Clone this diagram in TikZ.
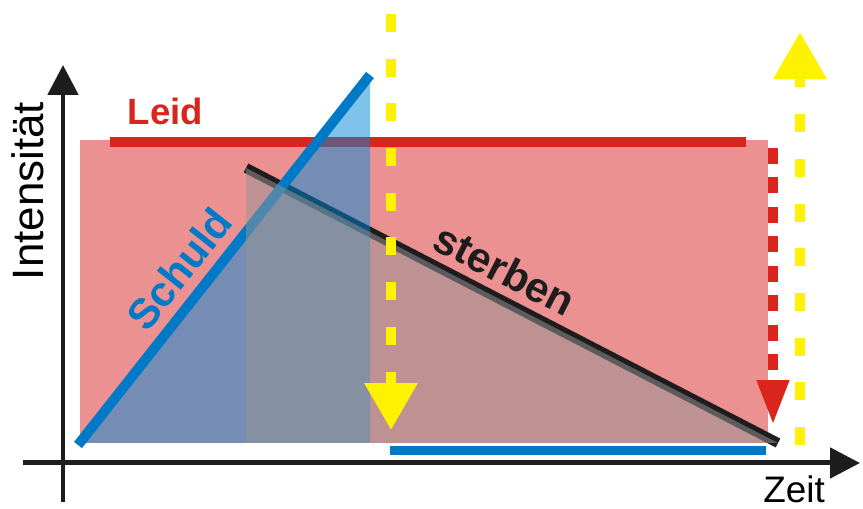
\documentclass[tikz,border=0pt]{standalone}
\usepackage{fontspec}
\setmainfont{Liberation Sans}
\usetikzlibrary{arrows.meta}
\definecolor{leidred}{RGB}{218,37,29}
\definecolor{pinkbg}{RGB}{236,145,145}
\definecolor{schuldblue}{RGB}{0,122,199}
\definecolor{fillblue}{RGB}{0,136,216}
\definecolor{fillgrey}{RGB}{150,148,148}
\definecolor{arrowyellow}{RGB}{255,242,0}
\definecolor{axisblack}{RGB}{30,28,28}

\begin{document}
\begin{tikzpicture}[x=0.02cm,y=-0.02cm,
  ax/.style={draw=axisblack,line width=1mm,-{Triangle[width=6mm,length=6mm]}},
  bar/.style={line width=2mm},
  ydash/.style={draw=arrowyellow,line width=2mm,dash pattern=on 3.6mm off 5.34mm,
                -{Triangle[width=10.2mm,length=9.4mm]}},
  rdash/.style={draw=leidred,line width=2mm,dash pattern=on 3.2mm off 2.7mm,
                -{Triangle[width=6mm,length=9mm]}},
  lbl/.style={inner sep=0pt,anchor=base},
  big/.style={font=\fontsize{24}{28}\selectfont\bfseries}]

\useasboundingbox (0,0) rectangle (863,509);

% areas and curves
\fill[pinkbg] (80,140) rectangle (768,443);
\draw[leidred,bar] (110,142) -- (746,142);
\draw[axisblack,bar] (246,168) -- (778,443);
\fill[fillblue,fill opacity=.5] (79,443) -- (370,76) -- (370,443) -- cycle;
\draw[schuldblue,bar] (78,445) -- (370,75);
\fill[fillgrey,fill opacity=.53] (246,168) -- (778,443) -- (246,443) -- cycle;
\draw[schuldblue,line width=1.8mm] (390,451) -- (766,451);

% axes
\coordinate (ybot) at (63,502); \coordinate (ytop) at (63,65);
\coordinate (xleft) at (23,463); \coordinate (xright) at (860,463);
\draw[ax] (ybot) -- (ytop);
\draw[ax] (xleft) -- (xright);

% arrows
\coordinate (d1) at (391,14); \coordinate (d2) at (391,430);
\coordinate (u1) at (800,445); \coordinate (u2) at (800,32);
\coordinate (r1) at (773,148); \coordinate (r2) at (773,425);
\draw[ydash] (d1) -- (d2);
\draw[ydash] (u1) -- (u2);
\draw[rdash] (r1) -- (r2);

% labels
\node[lbl,text=leidred,font=\fontsize{20.8}{24}\selectfont\bfseries](leid) at (165.5,125){Leid};
\node[lbl,rotate=90,font=\fontsize{25}{29}\selectfont](int) at (43,191){Intensität};
\node[lbl,font=\fontsize{21}{25}\selectfont](zeit) at (794,503){Zeit};
\node[lbl,big,rotate=51.7,text=schuldblue](schuld) at (191,278){Schuld};
\node[lbl,big,rotate=-27.1,text=axisblack](sterben) at (498,283){sterben};
\end{tikzpicture}
\end{document}
